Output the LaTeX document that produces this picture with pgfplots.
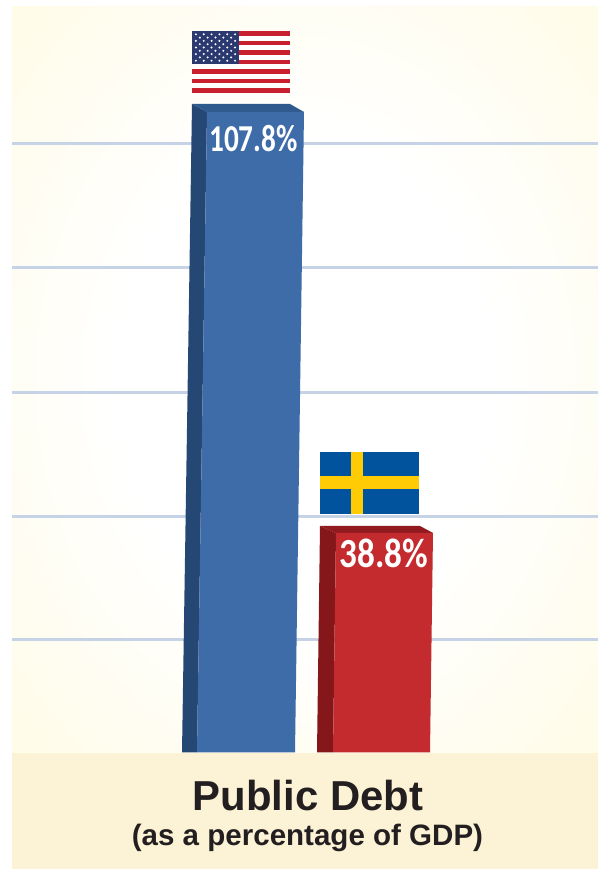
\documentclass[border=0pt]{standalone}
\usepackage{fontspec}
\setmainfont{Liberation Sans}
\newfontfamily\barfont{Carlito}
\usepackage{pgfplots}
\pgfplotsset{compat=1.18}
\definecolor{cream}{HTML}{FFFBE2}
\definecolor{strip}{HTML}{FCF2D5}
\definecolor{gridc}{HTML}{C6D2E6}
\definecolor{bluefront}{HTML}{3E6CA8}
\definecolor{blueside}{HTML}{254774}
\definecolor{bluetop}{HTML}{2F5A8D}
\definecolor{redfront}{HTML}{C42B2F}
\definecolor{redside}{HTML}{85161A}
\definecolor{redtop}{HTML}{901A1E}
\definecolor{flagred}{HTML}{C8202F}
\definecolor{flagnavy}{HTML}{2A3A70}
\definecolor{seblue}{HTML}{00539C}
\definecolor{seyellow}{HTML}{FFCB05}
\definecolor{ink}{HTML}{231F20}
\pgfdeclareradialshading{panelglow}{\pgfpoint{0bp}{0bp}}{color(0bp)=(white); color(16bp)=(white); color(40bp)=(cream); color(100bp)=(cream)}
\begin{document}
\begin{tikzpicture}
\begin{scope}[x=0.75bp,y=-0.75bp,yshift=651.75bp]
\fill[white] (0,0) rectangle (598,869);
\shade[shading=panelglow] (12,7) rectangle (598,753);
\fill[strip] (12,753) rectangle (598,869);
\end{scope}
\begin{axis}[
  at={(9bp,0bp)}, anchor=south west,
  scale only axis, width=439.5bp, height=646.5bp,
  xmin=12, xmax=598, ymin=-19.365, ymax=123.92,
  axis line style={draw=none}, major tick length=0pt,
  xtick=\empty, ytick={18.70,39.31,59.92,80.70,101.31}, yticklabels={},
  ymajorgrids, grid style={gridc, line width=2.25bp},
]
% blue bar: side, top, front
\addplot[fill=blueside,draw=none] coordinates {(192,107.8) (207,106.47) (197,0) (182,0)} --cycle;
\addplot[fill=bluetop,draw=none] coordinates {(192,107.8) (290,107.8) (304,106.47) (207,106.47)} --cycle;
\addplot[fill=bluefront,draw=none] coordinates {(207,106.47) (304,106.47) (295,0) (197,0)} --cycle;
% red bar: side, top, front
\addplot[fill=redside,draw=none] coordinates {(320,37.65) (336,36.49) (333,0) (317,0)} --cycle;
\addplot[fill=redtop,draw=none] coordinates {(320,37.65) (420,37.65) (433,36.49) (336,36.49)} --cycle;
\addplot[fill=redfront,draw=none] coordinates {(336,36.49) (433,36.49) (430,0) (333,0)} --cycle;
\end{axis}
\begin{scope}[x=0.75bp,y=-0.75bp,yshift=651.75bp]
% US flag
\fill[white] (192,31) rectangle (290,93);
\foreach \i in {0,2,...,12}{
  \fill[flagred] (192,{31+\i*62/13}) rectangle (290,{31+(\i+1)*62/13});
}
\fill[flagnavy] (192,31) rectangle (239,64);
\foreach \r in {1,3,5,7,9}{
  \foreach \c in {1,3,...,11}{
    \fill[white] ({192+\c*47/12},{31+\r*33/10}) circle (1.1);
  }
}
\foreach \r in {2,4,6,8}{
  \foreach \c in {2,4,...,10}{
    \fill[white] ({192+\c*47/12},{31+\r*33/10}) circle (1.1);
  }
}
% Swedish flag
\fill[seblue] (320,452) rectangle (418.5,514);
\fill[seyellow] (351,452) rectangle (363,514);
\fill[seyellow] (320,476) rectangle (418.5,489);
% labels
\node[anchor=base,inner sep=0pt,text=white] at (253.5,151.5) {\barfont\bfseries\fontsize{28.5bp}{30bp}\selectfont\scalebox{0.77}[1]{107.8\%}};
\node[anchor=base,inner sep=0pt,text=white] at (384,567.5) {\barfont\bfseries\fontsize{31bp}{33bp}\selectfont\scalebox{0.85}[1]{38.8\%}};
\node[anchor=base,inner sep=0pt,text=ink] at (308,810.5) {\bfseries\fontsize{31.4bp}{33bp}\selectfont Public Debt};
\node[anchor=base,inner sep=0pt,text=ink] at (307.5,845.5) {\bfseries\fontsize{22.15bp}{24bp}\selectfont (as a percentage of GDP)};
\end{scope}
\end{tikzpicture}
\end{document}
